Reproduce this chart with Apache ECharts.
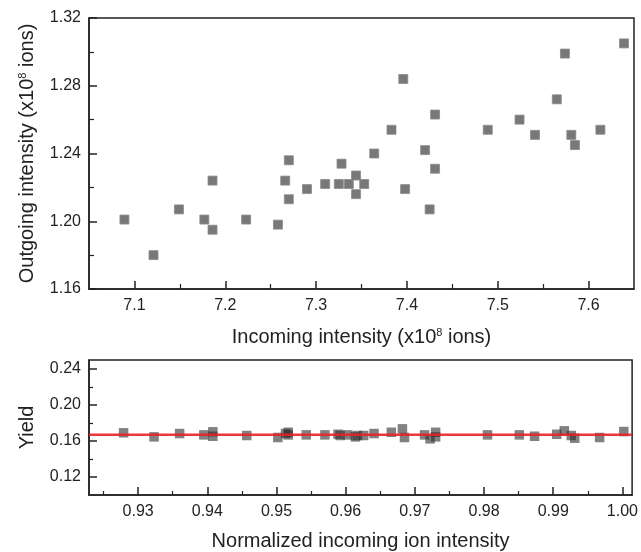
<!DOCTYPE html>
<html>
<head>
<meta charset="utf-8">
<script src="https://cdn.jsdelivr.net/npm/echarts@6/dist/echarts.min.js"></script>
<style>html,body{margin:0;padding:0;background:#fff}#c{width:641px;height:552px}</style>
</head>
<body>
<div id="c"></div>
<script>
// Top panel: incoming vs outgoing intensity (x10^8 ions)
const incoming = [7.089,7.121,7.149,7.177,7.186,7.186,7.223,7.258,7.266,7.270,7.270,7.290,7.310,7.325,7.328,7.336,7.344,7.344,7.353,7.364,7.383,7.396,7.398,7.420,7.425,7.431,7.431,7.489,7.524,7.541,7.565,7.574,7.581,7.585,7.613,7.639];
const outgoing = [1.201,1.180,1.207,1.201,1.224,1.195,1.201,1.198,1.224,1.236,1.213,1.219,1.222,1.222,1.234,1.222,1.227,1.216,1.222,1.240,1.254,1.284,1.219,1.242,1.207,1.263,1.231,1.254,1.260,1.251,1.272,1.299,1.251,1.245,1.254,1.305];
const topXTicks = [7.1,7.2,7.3,7.4,7.5,7.6];
const topXMinor = [7.15,7.25,7.35,7.45,7.55];

// Bottom panel: yield vs normalized incoming ion intensity
const normIncoming = [0.9279,0.9323,0.9360,0.9395,0.9408,0.9408,0.9457,0.9502,0.9513,0.9517,0.9517,0.9543,0.9570,0.9589,0.9592,0.9603,0.9614,0.9617,0.9626,0.9641,0.9666,0.9682,0.9685,0.9714,0.9722,0.9730,0.9730,0.9805,0.9851,0.9873,0.9905,0.9916,0.9926,0.9931,0.9967,1.0002];
const yieldVals = [0.1691,0.1646,0.1683,0.1668,0.1702,0.1653,0.1661,0.1639,0.1683,0.1697,0.1668,0.1668,0.1668,0.1675,0.1661,0.1668,0.1646,0.1661,0.1661,0.1683,0.1697,0.1735,0.1639,0.1668,0.1624,0.1697,0.1646,0.1668,0.1668,0.1653,0.1675,0.1713,0.1661,0.1631,0.1639,0.1705];
const yieldFit = 0.167;
const botXTicks = [0.93,0.94,0.95,0.96,0.97,0.98,0.99,1.00];
const botXMinor = [0.925,0.935,0.945,0.955,0.965,0.975,0.985,0.995];
const botYTicks = [0.12,0.16,0.20,0.24];
const botYMinor = [0.14,0.18,0.22];

const FONT = 'Liberation Sans, Arial, Helvetica, sans-serif';
const AX = '#222';
const TXT = '#222';
const TICK_FS = 16;
const NAME_FS = 20;

const chart = echarts.init(document.getElementById('c'), null, {renderer:'canvas'});

const topRange = [7.05, 7.65];
const botXRange = [0.9229, 1.0014];
const botYRange = [0.10, 0.25];

function majorAxisCommon(){
  return {
    axisLine:{show:true, lineStyle:{color:AX, width:1.5}},
    splitLine:{show:false},
  };
}

const option = {
  animation:false,
  backgroundColor:'#fff',
  textStyle:{fontFamily:FONT},
  grid:[
    {left:89, top:18, width:545, height:271, show:true, borderColor:AX, borderWidth:1.5, backgroundColor:'transparent'},
    {left:89, top:360, width:544, height:136, show:true, borderColor:AX, borderWidth:1.5, backgroundColor:'transparent'}
  ],
  xAxis:[
    Object.assign(majorAxisCommon(), {
      type:'value', gridIndex:0, position:'bottom', min:topRange[0], max:topRange[1],
      axisTick:{show:true, inside:true, length:8, customValues:topXTicks, lineStyle:{color:AX, width:1.5}},
      axisLabel:{show:true, customValues:topXTicks, margin:9, fontSize:TICK_FS, color:TXT, fontFamily:FONT, formatter:v=>v.toFixed(1)},
      name:'Incoming intensity (x10{sup|8} ions)', nameLocation:'middle', nameGap:38,
      nameTextStyle:{fontSize:NAME_FS, color:TXT, fontFamily:FONT, rich:{sup:{fontSize:11, verticalAlign:'top', color:TXT, fontFamily:FONT}}}
    }),
    {
      type:'value', gridIndex:0, position:'bottom', min:topRange[0], max:topRange[1],
      axisLine:{show:false}, splitLine:{show:false}, axisLabel:{show:false},
      axisTick:{show:true, inside:true, length:5, customValues:topXMinor, lineStyle:{color:AX, width:1.2}}
    },
    Object.assign(majorAxisCommon(), {
      type:'value', gridIndex:1, position:'bottom', min:botXRange[0], max:botXRange[1],
      axisTick:{show:true, inside:true, length:8, customValues:botXTicks, lineStyle:{color:AX, width:1.5}},
      axisLabel:{show:true, customValues:botXTicks, margin:9, fontSize:TICK_FS, color:TXT, fontFamily:FONT, formatter:v=>v.toFixed(2)},
      name:'Normalized incoming ion intensity', nameLocation:'middle', nameGap:36,
      nameTextStyle:{fontSize:NAME_FS, color:TXT, fontFamily:FONT}
    }),
    {
      type:'value', gridIndex:1, position:'bottom', min:botXRange[0], max:botXRange[1],
      axisLine:{show:false}, splitLine:{show:false}, axisLabel:{show:false},
      axisTick:{show:true, inside:true, length:4, customValues:botXMinor, lineStyle:{color:AX, width:1.2}}
    }
  ],
  yAxis:[
    Object.assign(majorAxisCommon(), {
      type:'value', gridIndex:0, position:'left', min:1.16, max:1.32, interval:0.04,
      axisTick:{show:true, inside:true, length:8, lineStyle:{color:AX, width:1.5}},
      minorTick:{show:true, splitNumber:2, length:5, lineStyle:{color:AX, width:1.2}},
      minorSplitLine:{show:false},
      axisLabel:{show:true, margin:8, fontSize:TICK_FS, color:TXT, fontFamily:FONT, formatter:v=>v.toFixed(2)},
      name:'Outgoing intensity (x10{sup|8} ions)', nameLocation:'middle', nameGap:52,
      nameTextStyle:{fontSize:NAME_FS, color:TXT, fontFamily:FONT, rich:{sup:{fontSize:11, verticalAlign:'top', color:TXT, fontFamily:FONT}}}
    }),
    Object.assign(majorAxisCommon(), {
      type:'value', gridIndex:1, position:'left', min:botYRange[0], max:botYRange[1],
      axisTick:{show:true, inside:true, length:8, customValues:botYTicks, lineStyle:{color:AX, width:1.5}},
      axisLabel:{show:true, customValues:botYTicks, margin:8, fontSize:TICK_FS, color:TXT, fontFamily:FONT, formatter:v=>v.toFixed(2)},
      name:'Yield', nameLocation:'middle', nameGap:52,
      nameTextStyle:{fontSize:NAME_FS, color:TXT, fontFamily:FONT}
    }),
    {
      type:'value', gridIndex:1, position:'left', min:botYRange[0], max:botYRange[1],
      axisLine:{show:false}, splitLine:{show:false}, axisLabel:{show:false},
      axisTick:{show:true, inside:true, length:4, customValues:botYMinor, lineStyle:{color:AX, width:1.2}}
    }
  ],
  series:[
    {
      type:'scatter', xAxisIndex:0, yAxisIndex:0, symbol:'rect', symbolSize:9,
      itemStyle:{color:'#787878', borderColor:'#8c8c8c', borderWidth:0.8, opacity:1},
      data: incoming.map((x,i)=>[x, outgoing[i]]), silent:true
    },
    {
      type:'scatter', xAxisIndex:2, yAxisIndex:1, symbol:'rect', symbolSize:9.5,
      itemStyle:{color:'rgba(45,45,45,0.75)'},
      data: normIncoming.map((x,i)=>[x, yieldVals[i]]), silent:true
    },
    {
      type:'line', xAxisIndex:2, yAxisIndex:1, z:5, symbol:'none', silent:true,
      lineStyle:{color:'rgba(232,32,40,0.9)', width:2.5},
      data:[[botXRange[0], yieldFit],[botXRange[1], yieldFit]]
    }
  ]
};
chart.setOption(option);
</script>
</body>
</html>
